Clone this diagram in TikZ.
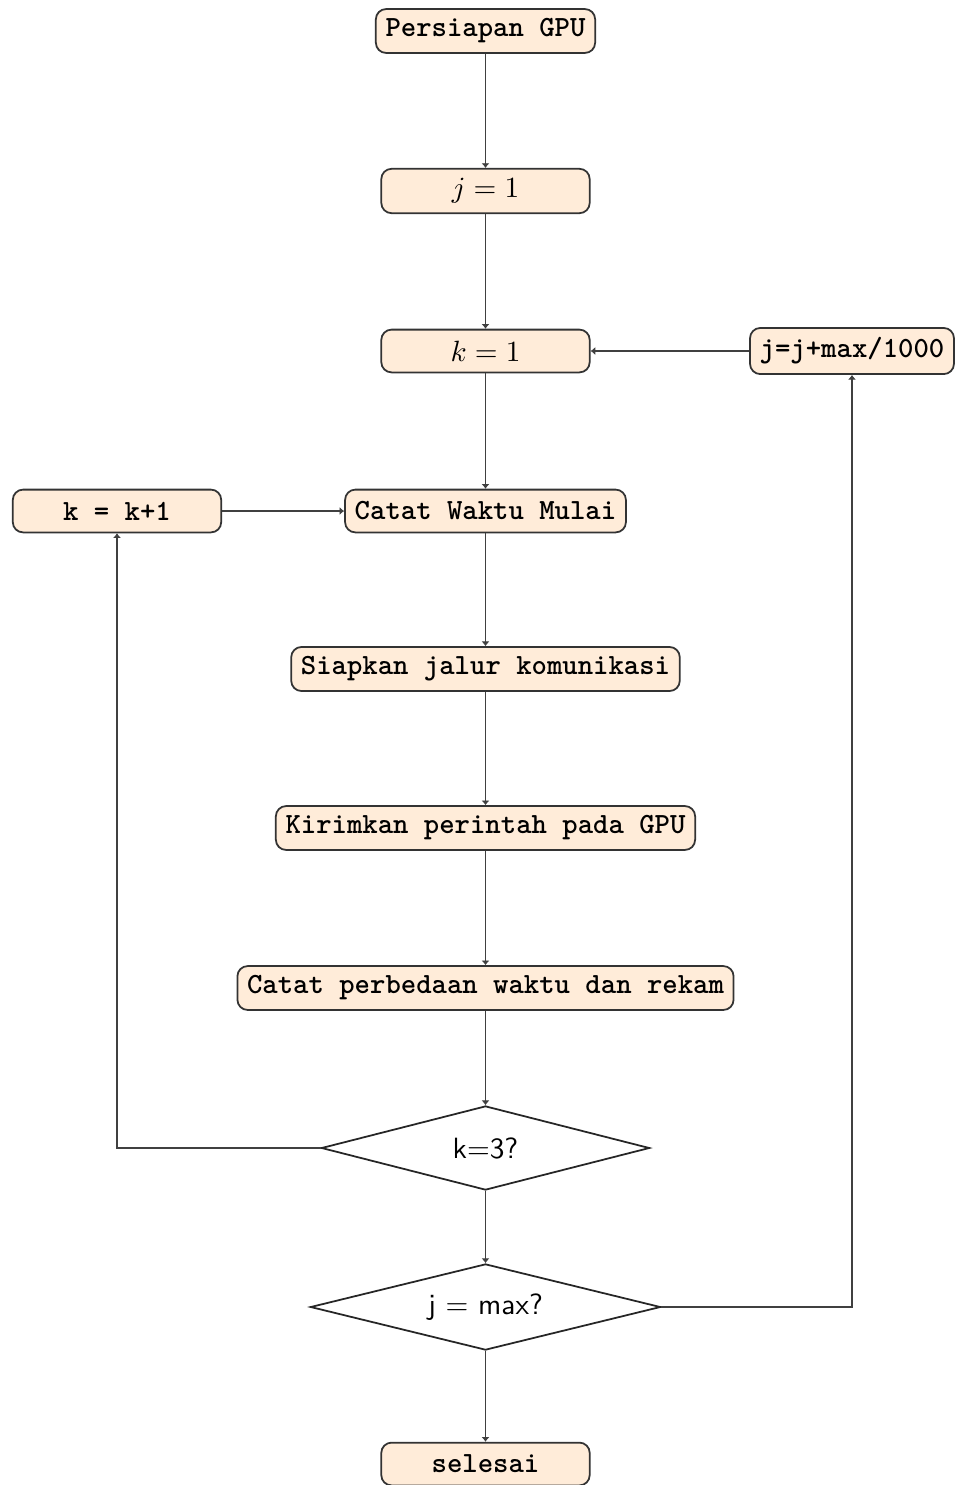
\documentclass[tikz,border=0pt]{standalone}
\usepackage{fontspec}
\usetikzlibrary{shapes.geometric,arrows.meta}
\begin{document}
\begin{tikzpicture}[x=0.3413pt,y=-0.3413pt,
  procbox/.style={draw=black!80,line width=0.6pt,fill=orange!15,rounded corners=3.5pt,
    minimum width=2.5cm,minimum height=14.6pt,inner sep=3.3pt,font=\ttfamily\bfseries},
  mathbox/.style={procbox,font=\normalsize},
  decide/.style={draw=black!85,line width=0.6pt,diamond,aspect=4,inner sep=0pt,font=\sffamily},
  conn/.style={draw=black!75,line width=0.5pt,-{Latex[length=1.6pt,width=2.8pt]}}]
\useasboundingbox (0,0) rectangle (955,1485);
\node[procbox] (gpu) at (485.5,31) {Persiapan GPU};
\node[mathbox] (j1) at (485.5,191) {$j=1$};
\node[mathbox] (k1) at (485.5,351) {$k=1$};
\node[procbox,minimum width=0pt] (jinc) at (852,351) {j=j+max/1000};
\node[procbox] (kinc) at (117,511) {k = k+1};
\node[procbox] (start) at (485.5,511) {Catat Waktu Mulai};
\node[procbox] (prep) at (485.5,669) {Siapkan jalur komunikasi};
\node[procbox] (send) at (485.5,828) {Kirimkan perintah pada GPU};
\node[procbox] (rec) at (485.5,988) {Catat perbedaan waktu dan rekam};
\node[decide,minimum width=112pt,minimum height=28.7pt] (k3) at (485.5,1148) {k=3?};
\node[decide,minimum width=119.5pt,minimum height=29.4pt] (jmax) at (485.5,1307) {j = max?};
\node[procbox] (end) at (485.5,1464) {selesai};
\draw[conn] (gpu) -- (j1);
\draw[conn] (j1) -- (k1);
\draw[conn] (k1) -- (start);
\draw[conn] (start) -- (prep);
\draw[conn] (prep) -- (send);
\draw[conn] (send) -- (rec);
\draw[conn] (rec) -- (k3);
\draw[conn] (k3) -- (jmax);
\draw[conn] (jmax) -- (end);
\draw[conn] (jinc) -- (k1);
\draw[conn] (kinc) -- (start);
\draw[conn] (k3.west) -| (kinc.south);
\draw[conn] (jmax.east) -| (jinc.south);
\end{tikzpicture}
\end{document}
